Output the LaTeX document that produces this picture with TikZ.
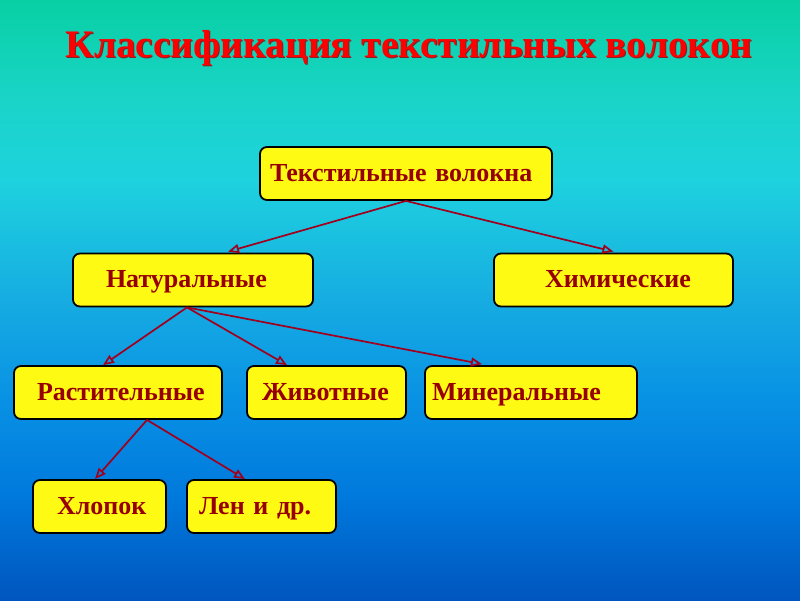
\documentclass[tikz,border=0pt]{standalone}
\usepackage{fontspec}
\setmainfont{Liberation Serif}
\usetikzlibrary{arrows.meta,calc}
\definecolor{txtred}{RGB}{150,0,0}
\definecolor{arr}{RGB}{160,0,30}
\definecolor{boxy}{RGB}{255,250,20}
\definecolor{shadowred}{RGB}{120,40,40}
\definecolor{bg0}{RGB}{8,208,164}
\definecolor{bg1}{RGB}{26,212,200}
\definecolor{bg2}{RGB}{30,210,222}
\definecolor{bg3}{RGB}{22,172,226}
\definecolor{bg4}{RGB}{8,145,228}
\definecolor{bg5}{RGB}{0,120,220}
\definecolor{bg6}{RGB}{0,86,190}
\begin{document}
\begin{tikzpicture}[x=1pt,y=-1pt,
  box/.style={draw=black, line width=1.8pt, fill=boxy, rounded corners=7pt,
    minimum height=53pt, inner xsep=0pt, inner ysep=0pt, align=left,
    text height=20pt, text depth=5pt,
    font=\bfseries\fontsize{26}{30}\selectfont, text=txtred},
  titlefont/.style={anchor=base, xscale=1.01, font=\bfseries\fontsize{39}{44}\selectfont},
  conn/.style={draw=arr, line width=1.7pt, -{Triangle[open,length=11pt,width=9pt]}}]
\useasboundingbox (0,0) rectangle (800,600);
\shade[top color=bg0, bottom color=bg1] (0,0) rectangle (800,100.5);
\shade[top color=bg1, bottom color=bg2] (0,100) rectangle (800,180.5);
\shade[top color=bg2, bottom color=bg3] (0,180) rectangle (800,300.5);
\shade[top color=bg3, bottom color=bg4] (0,300) rectangle (800,400.5);
\shade[top color=bg4, bottom color=bg5] (0,400) rectangle (800,500.5);
\shade[top color=bg5, bottom color=bg6] (0,500) rectangle (800,600);
\node[titlefont, text=shadowred] (titleshadow) at (410,58) {Классификация текстильных волокон};
\node[titlefont, text=red] (title) at (409,57) {Классификация текстильных волокон};
\node[box, text width=292pt] (top) at (406,173.5) {\hspace*{10pt}Текстильные волокна};
\node[box, text width=240pt] (nat) at (193,280) {\hspace*{33pt}Натуральные};
\node[box, text width=239pt] (him) at (613.5,280) {\hspace*{51pt}Химические};
\node[box, text width=208pt] (rast) at (118,392.5) {\hspace*{23pt}Растительные};
\node[box, text width=159pt] (zhiv) at (326.5,392.5) {\hspace*{15pt}Животные};
\node[box, text width=212pt] (min) at (531,392.5) {\hspace*{7pt}Минеральные};
\node[box, text width=133pt] (hlop) at (99.5,506.5) {\hspace*{24pt}Хлопок};
\node[box, text width=149pt] (len) at (261.5,506.5) {\hspace*{12pt}Лен и др.};
\draw[conn] (top.south) -- ([xshift=35pt,yshift=1pt]nat.north);
\draw[conn] (top.south) -- ([yshift=1pt]him.north);
\draw[conn] ([xshift=-6pt]nat.south) -- ([xshift=-15pt]rast.north);
\draw[conn] ([xshift=-6pt]nat.south) -- ([xshift=-39.5pt]zhiv.north);
\draw[conn] ([xshift=-6pt]nat.south) -- ([xshift=-49pt,yshift=1pt]min.north);
\draw[conn] ([xshift=29pt]rast.south) -- ([xshift=-4.5pt]hlop.north);
\draw[conn] ([xshift=29pt]rast.south) -- ([xshift=-16.5pt]len.north);
\end{tikzpicture}
\end{document}
